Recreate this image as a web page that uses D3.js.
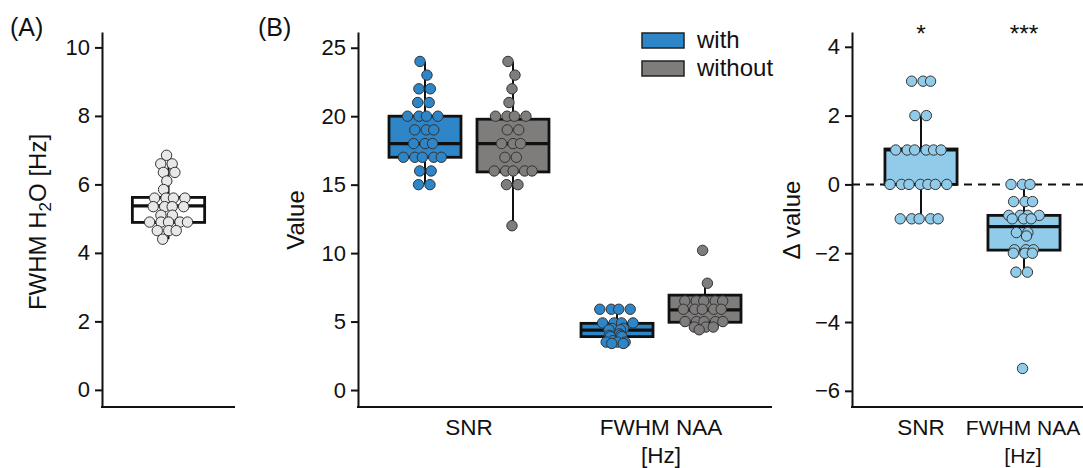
<!DOCTYPE html>
<html><head><meta charset="utf-8">
<script src="https://cdn.jsdelivr.net/npm/d3@7"></script>
<style>
body{margin:0;background:#fff}
text{font-family:"Liberation Sans",Arial,sans-serif;fill:#111}
</style></head>
<body><svg id="c" width="1083" height="468"></svg>
<script>
// ---------- data ----------
const h2oValues=[6.85,6.6,6.6,6.35,6.35,6.1,5.85,5.6,5.6,5.6,5.6,5.35,5.35,5.35,5.35,5.1,5.1,4.9,4.9,4.9,4.9,4.9,4.65,4.65,4.65,4.4];
const h2oStats=[4.89,5.37,5.62,4.4,6.6]; // q1, median, q3, whisker low, whisker high
const categories=["SNR","FWHM NAA [Hz]"];
const seriesNames=["with","without"];
const snrWith=[24,23,22,22,21,21,20,20,20,20,19,19,19,18,18,18,17,17,17,17,17,16,16,15,15];
const snrWithout=[24,23,22,21,20,20,20,20,19,19,18,18,18,17,17,16,16,16,16,16,15,15,12];
const naaWith=[5.9,5.9,5.9,5.9,4.9,4.9,4.9,4.9,4.5,4.5,4.4,4.4,4.1,4.0,4.0,3.9,3.9,3.6,3.5,3.5,3.5,3.4,3.4];
const naaWithout=[10.2,7.8,6.5,6.5,6.5,6.5,6.5,5.9,5.9,5.9,5.9,5.9,5.0,5.0,5.0,5.0,5.0,4.6,4.6,4.6,4.4];
const statsWith=[[17,18,20,15,24],[3.9,4.38,4.87,3.4,5.9]];
const statsWithout=[[15.93,18,19.78,12,24],[4.95,5.85,6.93,4.4,7.8]];
const deltaSnr=[3,3,3,2,2,1,1,1,1,1,1,0,0,0,0,0,0,0,-1,-1,-1,-1,-1];
const deltaNaa=[0,0,0,-0.5,-0.5,-0.5,-0.9,-0.9,-0.9,-0.9,-1.0,-1.0,-1.0,-1.4,-1.4,-1.5,-1.9,-1.9,-1.9,-2.0,-2.0,-2.0,-2.55,-2.55,-5.35];
const deltaStats=[[0,1,1.03,-1,2],[-1.91,-1.23,-0.9,-2.55,0]];
const sigLabels=["*","***"];
const yTicksA=[0,2,4,6,8,10], yTicksB=[0,5,10,15,20,25], yTicksC=[-6,-4,-2,0,2,4];
const colWith="#2e86c8", colWithout="#7f7c7c", colDelta="#91cbea";

// ---------- helpers ----------
const svg=d3.select("#c");
const FS=22.5, FT=24;
function jitter(vals){
  const cnt=d3.rollup(vals,v=>v.length,d=>d), seen=new Map();
  return vals.map(v=>{
    const n=cnt.get(v), i=seen.get(v)||0; seen.set(v,i+1);
    const shift=((Math.abs(v)*37.3)%1-0.5)*10;
    const wob=((i*0.618)%1-0.5)*4;
    return (i-(n-1)/2)*9+(n===1?shift:shift*0.4)+wob;
  });
}
function yAxis(y,ticks,x){
  const g=svg.append("g").attr("transform",`translate(${x},0)`)
    .call(d3.axisLeft(y).tickValues(ticks).tickSize(7).tickSizeOuter(0).tickPadding(5));
  g.select(".domain").attr("stroke","#111").attr("stroke-width",2);
  g.selectAll(".tick line").attr("stroke","#111").attr("stroke-width",2);
  g.selectAll(".tick text").attr("font-size",22).attr("font-family","Liberation Sans, Arial, sans-serif").attr("fill","#111");
}
function xLine(x0,x1,y){
  svg.append("line").attr("x1",x0-1).attr("x2",x1).attr("y1",y).attr("y2",y).attr("stroke","#111").attr("stroke-width",2);
}
function box(cx,w,s,y,fill){
  const g=svg.append("g");
  g.append("line").attr("x1",cx).attr("x2",cx).attr("y1",y(s[3])).attr("y2",y(s[4])).attr("stroke","#111").attr("stroke-width",2);
  g.append("rect").attr("x",cx-w/2).attr("width",w).attr("y",y(s[2])).attr("height",y(s[0])-y(s[2]))
    .attr("fill",fill).attr("stroke","#111").attr("stroke-width",2.8);
  g.append("line").attr("x1",cx-w/2).attr("x2",cx+w/2).attr("y1",y(s[1])).attr("y2",y(s[1])).attr("stroke","#111").attr("stroke-width",3.2);
}
function points(cx,vals,y,fill){
  const off=jitter(vals);
  svg.append("g").selectAll("circle").data(vals).join("circle")
    .attr("cx",(d,i)=>cx+off[i]).attr("cy",d=>y(d)).attr("r",5.2)
    .attr("fill",fill).attr("stroke","#333").attr("stroke-width",1);
}
function catLabel(x,label,yb,fs){
  const parts=label.split(" [");
  const t=svg.append("text").attr("x",x).attr("y",yb).attr("text-anchor","middle").attr("font-size",fs);
  t.append("tspan").attr("x",x).text(parts[0]);
  if(parts.length>1) t.append("tspan").attr("x",x).attr("dy",28).text("["+parts[1]);
}
function yTitle(x,yc,build){
  const t=svg.append("text").attr("transform",`translate(${x},${yc}) rotate(-90)`).attr("text-anchor","middle").attr("font-size",FT);
  build(t);
}
const yBase=407, yTop=32;

// ---------- panel A ----------
const yA=d3.scaleLinear().domain([-0.5,10.45]).range([yBase,yTop]);
const xA=d3.scaleBand().domain(["H2O"]).range([102,235]).paddingOuter(0.42);
xLine(102,235,yBase);
yAxis(yA,yTicksA,102);
const cA=xA("H2O")+xA.bandwidth()/2;
box(cA,xA.bandwidth(),h2oStats,yA,"#fff");
points(cA,h2oValues,yA,"#e8e8e8");
yTitle(46,222,t=>{t.append("tspan").text("FWHM H");t.append("tspan").attr("font-size",17).attr("dy",5).text("2");t.append("tspan").attr("dy",-5).text("O [Hz]");});
svg.append("text").attr("x",10).attr("y",36).attr("font-size",FT+1).text("(A)");

// ---------- panel B left ----------
const yB=d3.scaleLinear().domain([-1.24,26.15]).range([yBase,yTop]);
const xB=d3.scaleBand().domain(categories).range([358,772]).paddingInner(0).paddingOuter(0.078);
const xBs=d3.scaleBand().domain(seriesNames).range([0,xB.bandwidth()]).paddingInner(0.182).paddingOuter(0.182);
xLine(358,772,yBase);
yAxis(yB,yTicksB,358);
const groupsB=[[snrWith,snrWithout],[naaWith,naaWithout]];
categories.forEach((c,ci)=>{
  seriesNames.forEach((s,si)=>{
    const cx=xB(c)+xBs(s)+xBs.bandwidth()/2;
    const st=si===0?statsWith[ci]:statsWithout[ci];
    const col=si===0?colWith:colWithout;
    box(cx,xBs.bandwidth(),st,yB,col);
    points(cx,groupsB[ci][si],yB,col);
  });
  catLabel(xB(c)+xB.bandwidth()/2,c,435,FS);
});
yTitle(304,220,t=>t.text("Value"));
svg.append("text").attr("x",258).attr("y",36).attr("font-size",FT+1).text("(B)");
// legend
seriesNames.forEach((s,i)=>{
  const ly=33+i*28;
  svg.append("rect").attr("x",642).attr("y",ly).attr("width",42).attr("height",15)
    .attr("fill",i===0?colWith:colWithout).attr("stroke","#222").attr("stroke-width",1.5);
  svg.append("text").attr("x",697).attr("y",ly+15).attr("font-size",FT).text(s);
});

// ---------- panel B right ----------
const yC=d3.scaleLinear().domain([-6.47,4.43]).range([yBase,yTop]);
const xC=d3.scaleBand().domain(categories).range([852,1093]).paddingInner(0.3).paddingOuter(0.32);
xLine(852,1083,yBase);
svg.append("line").attr("x1",852).attr("x2",1083).attr("y1",yC(0)).attr("y2",yC(0))
  .attr("stroke","#111").attr("stroke-width",2).attr("stroke-dasharray","8,6");
yAxis(yC,yTicksC,852);
const deltas=[deltaSnr,deltaNaa];
categories.forEach((c,ci)=>{
  const cx=xC(c)+xC.bandwidth()/2;
  box(cx,xC.bandwidth(),deltaStats[ci],yC,colDelta);
  points(cx,deltas[ci],yC,colDelta);
  catLabel(ci===1?cx-1:cx,c,435,ci===1?21:FS);
  svg.append("text").attr("x",cx).attr("y",42).attr("text-anchor","middle").attr("font-size",FS+2).text(sigLabels[ci]);
});
yTitle(800,220,t=>t.text("Δ value"));
</script></body></html>
